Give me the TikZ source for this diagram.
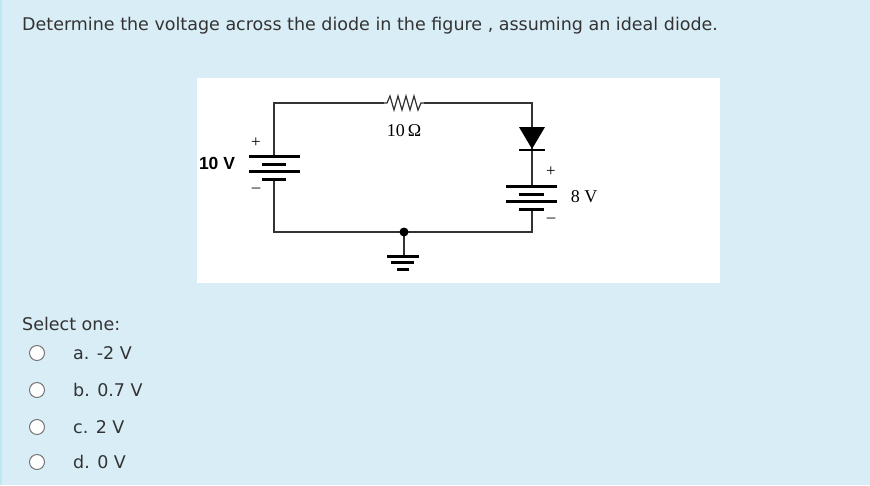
\documentclass[tikz,border=0pt]{standalone}
\usepackage{fontspec}
\setmainfont{DejaVu Sans}
\newfontfamily\figserif{Liberation Serif}
\newfontfamily\figsans{Liberation Sans}
\usetikzlibrary{positioning, calc}
\definecolor{PanelBlue}{HTML}{D9EDF7}
\definecolor{PanelEdge}{HTML}{BCE8F1}
\definecolor{TextDark}{HTML}{333333}
\definecolor{RadioGray}{HTML}{767676}

\begin{document}
\begin{tikzpicture}[x=1pt, y=-1pt,
  wire/.style={line width=1.2pt, black!80},
  plate/.style={line width=3pt, black},
  qtext/.style={anchor=base west, inner sep=0pt, text=TextDark, font=\fontsize{17.5}{21}\selectfont},
  radio/.style={circle, draw=RadioGray, fill=white, line width=1pt, minimum size=15pt, inner sep=0pt}]
  % --- PANEL ---
  \useasboundingbox (0,0) rectangle (870,485);
  \fill[PanelBlue] (0,0) rectangle (870,485);
  \draw[PanelEdge, line width=1.5pt] (0.75,0) -- (0.75,485);
  \node[qtext] (question) at (22,30) {Determine the voltage across the diode in the figure , assuming an ideal diode.};

  % --- FIGURE ---
  \fill[white] (197,78) rectangle (720,283);
  \coordinate (tl) at (274,103);
  \coordinate (tr) at (532,103);
  \coordinate (bl) at (274,232);
  \coordinate (br) at (532,232);
  \coordinate (gnd) at (404,232);

  % wires
  \draw[wire] (274,156) -- (tl) -- (384,103);
  \draw[wire] (424,103) -- (tr) -- (532,150);
  \draw[wire] (532,150) -- (532,186);
  \draw[wire] (274,179) -- (bl) -- (br) -- (532,209);
  \draw[wire] (gnd) -- (404,256);
  \fill[black] (gnd) circle (4.5);

  % resistor
  \draw[wire, line join=miter] (384,103) -- (387,103) -- (390,96) -- (394,110) -- (398,96) -- (402,110)
    -- (406,96) -- (410,110) -- (414,96) -- (418,110) -- (421,103) -- (424,103);
  \node[font=\figserif\fontsize{18}{21}\selectfont] (rlabel) at (404,131) {10\,Ω};

  % diode
  \fill[black] (519,127) -- (545,127) -- (532,149) -- cycle;
  \draw[line width=2.6pt] (519,150) -- (545,150);

  % 10 V battery
  \draw[plate] (249,156) -- (300,156);
  \draw[plate] (262,164) -- (286,164);
  \draw[plate] (249,171) -- (300,171);
  \draw[plate] (262,179) -- (286,179);
  \node[font=\figsans\bfseries\fontsize{17.5}{21}\selectfont] (vleft) at (217,163) {10 V};
  \node[font=\figserif\fontsize{17}{20}\selectfont] (pleft) at (256,143) {+};
  \node[font=\figserif\fontsize{17}{20}\selectfont] (mleft) at (256,190) {–};

  % 8 V battery
  \draw[plate] (506,186) -- (557,186);
  \draw[plate] (519,194) -- (544,194);
  \draw[plate] (506,201) -- (557,201);
  \draw[plate] (519,209) -- (544,209);
  \node[font=\figserif\fontsize{18}{21}\selectfont] (vright) at (584,197) {8 V};
  \node[font=\figserif\fontsize{17}{20}\selectfont] (pright) at (551,172) {+};
  \node[font=\figserif\fontsize{17}{20}\selectfont] (mright) at (551,220) {–};

  % ground
  \draw[plate] (387,256) -- (419,256);
  \draw[plate] (391,262) -- (414,262);
  \draw[plate] (397,269) -- (409,269);

  % --- ANSWERS ---
  \node[qtext] (select) at (22,330) {Select one:};
  \foreach \y/\txt [count=\i] in {353/a. -2 V, 390/b. 0.7 V, 427/c. 2 V, 462/d. 0 V} {
    \node[radio] (radio\i) at (37,\y) {};
    \node[qtext, anchor=west] (answer\i) at (73,\y) {\txt};
  }
\end{tikzpicture}
\end{document}
